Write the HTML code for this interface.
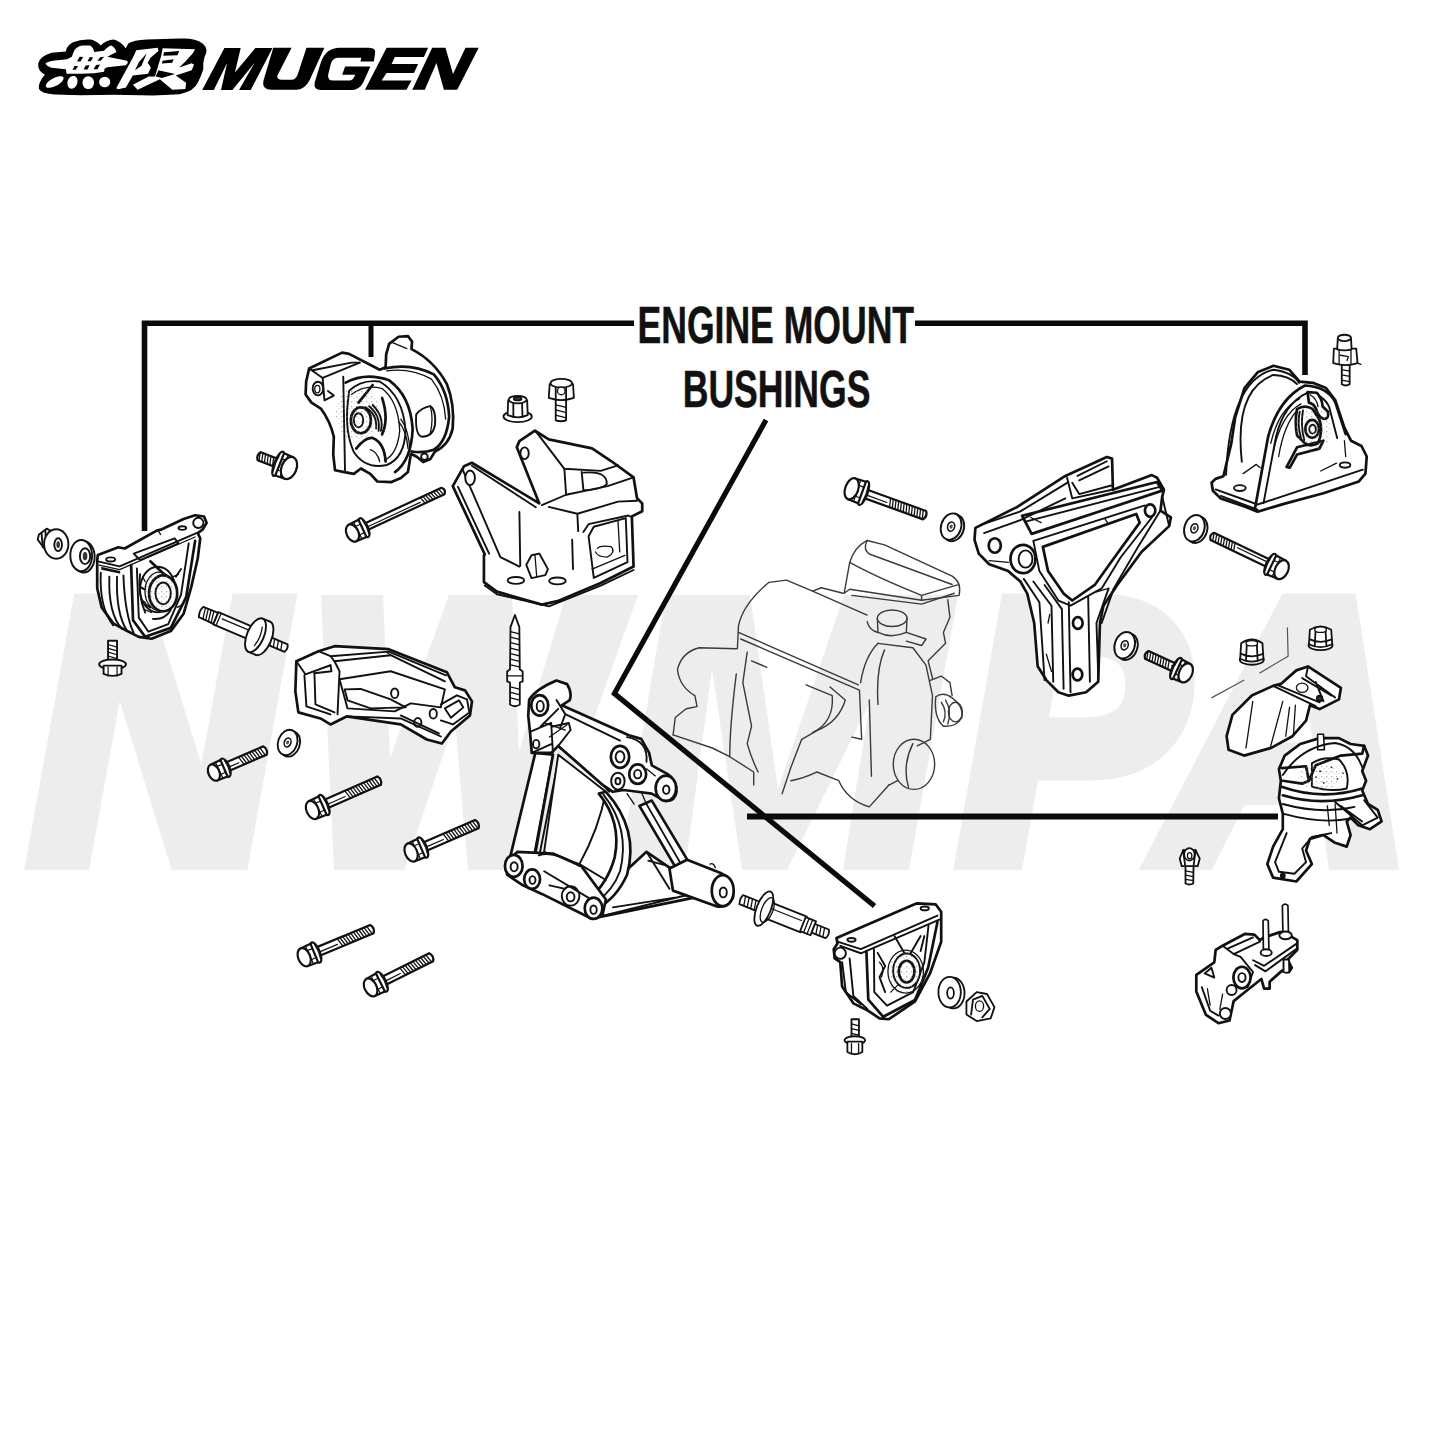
<!DOCTYPE html>
<html><head><meta charset="utf-8"><title>Mugen Engine Mount Bushings</title>
<style>
html,body{margin:0;padding:0;background:#fff;width:1445px;height:1445px;overflow:hidden}
svg{position:absolute;left:0;top:0;display:block}
#parts *{vector-effect:non-scaling-stroke}
.t{stroke-width:1.3}.th{stroke-width:2.7}.nf{fill:none}
</style></head><body>
<svg width="1445" height="1445" viewBox="0 0 1445 1445">
<defs><pattern id="stip" width="5" height="5" patternUnits="userSpaceOnUse"><rect x="1" y="1" width="1.3" height="1.3" fill="#777"/><rect x="3.5" y="3" width="1" height="1" fill="#999"/></pattern></defs>
<!-- watermark -->
<g id="wm" fill="#ededed" stroke="#ededed" stroke-width="22" stroke-linejoin="miter" font-family="Liberation Sans" font-weight="bold" font-style="italic" font-size="370">
<text transform="translate(-248.4,0) scale(0.93,1)" x="300" y="859">N</text>
<path stroke="none" d="M321,595 L383,595 L390,758 L449,595 L512,595 L519,752 L566,595 L638,595 L540,870 L468,870 L455,720 L404,870 L334,870 Z"/>
<path stroke="none" d="M619,870 L666,595 L750,595 L778,789 L844,595 L958,595 L909,870 L843,870 L870,702 L787,870 L742,870 L712,669 L685,870 Z"/>
<text transform="translate(686.5,0) scale(0.91,1)" x="300" y="859">P</text>
<text transform="translate(884.3,0) scale(0.93,1)" x="300" y="859">A</text>
</g>

<!-- logo -->
<g id="logo">
<path fill="#000" transform="translate(35,35) scale(0.06574)" d="M50,430 Q80,320 250,270 L470,250 Q480,160 580,110 Q700,60 850,70 Q950,100 1000,160 Q1080,80 1200,70 Q1300,100 1380,200 L1420,130 Q1500,80 1700,70 L2200,55 Q2430,40 2550,130 Q2650,220 2580,330 Q2550,420 2560,520 Q2520,640 2480,720 Q2420,860 2200,900 L1800,920 L1200,910 L700,915 L300,905 Q100,890 60,820 Q40,740 150,600 Q60,560 50,480 Z"/>
<g fill="#fff" transform="translate(35,35) scale(0.06574)">
<path d="M590,250 Q620,180 720,160 L840,160 Q890,190 900,260 L1050,240 Q1110,170 1160,160 Q1220,190 1240,260 L1100,330 L1400,390 Q1430,420 1380,460 L1100,490 L1060,510 L1050,560 L900,580 L700,590 L480,590 L470,520 L250,500 Q170,470 160,430 Q200,395 380,380 L490,370 L560,330 Z"/>
<ellipse cx="300" cy="715" rx="150" ry="62" transform="rotate(-28 300 715)"/>
<ellipse cx="570" cy="720" rx="75" ry="100" transform="rotate(18 570 720)"/>
<ellipse cx="810" cy="725" rx="88" ry="98"/>
<ellipse cx="1060" cy="715" rx="85" ry="80"/>
</g>
<g fill="#000" transform="translate(35,35) scale(0.06574)">
<path d="M640,405 L680,330 L735,335 L690,405 Z M800,400 L830,340 L885,340 L850,400 Z M950,390 L990,340 L1050,330 L1000,390 Z M570,530 L600,470 L655,470 L620,530 Z M740,525 L770,465 L830,460 L800,525 Z M890,520 L930,455 L990,450 L950,520 Z"/>
</g>
<g fill="#fff" transform="translate(110,35) scale(0.0692)">
<path d="M90,770 L330,330 L380,220 L690,185 L700,230 L585,330 L545,400 L590,470 L550,560 L330,585 L230,760 L120,785 Z"/>
<path d="M650,600 L740,300 L760,190 L1230,205 L1200,260 Q1100,380 1000,470 L1180,410 L1215,430 L1180,510 L950,585 L1100,690 L1090,780 L900,790 L720,640 L400,790 L330,720 L560,600 Z"/>
</g>
<g fill="#000" transform="translate(110,35) scale(0.0692)">
<path d="M360,510 L420,390 L530,262 L455,445 Z"/>
<path d="M780,250 L1000,232 L975,292 L770,300 Z M760,372 L920,352 L900,402 L750,412 Z M660,600 L700,510 L940,565 L750,620 Z"/>
</g>
<g fill="#000">
<path d="M202.2,90 L224.4,47.9 L240.7,47.9 L234.9,72.5 L255.4,47.9 L272.5,47.9 L250.7,90 L239,90 L254.5,63.1 L232.4,90 L221,90 L227.1,63.1 L213.8,90 Z"/>
<path d="M273.3,47.7 L291.6,47.7 L277.4,75.6 Q276.5,79.7 281,79.7 L291.6,79.7 Q295.5,79.7 297.5,75 L306.5,47.7 L324.4,47.7 L309.8,79.7 Q305,89.7 296,89.7 L272,89.7 Q261,89.7 263.7,79.7 Z"/>
<path d="M339.7,47.7 L369,47.7 Q376.5,47.7 375,54 L373.8,61.4 L360.5,61.4 L361.3,57.7 L338,57.7 Q332,58 330.6,64.8 L328.1,75 Q327.5,80.5 333.1,80.5 L349,80.5 Q353.5,80.5 355.1,74.7 L342.2,74.7 L345.1,66.4 L370.4,66.4 L363,83 Q359,90.1 351,90.1 L321,90.1 Q313,90.1 314.8,82 L321,62 Q326,47.7 339.7,47.7 Z"/>
<path d="M386.6,47.7 L428.1,47.7 L423.9,56.9 L394.9,56.9 L391.6,63.9 L418.1,63.9 L414,73.1 L386.6,73.1 L381.6,80.5 L411.5,80.5 L406.5,89.7 L365,89.7 Z"/>
<path d="M432.2,47.7 L445.5,47.7 L453,73.9 L465.5,47.7 L478.7,47.7 L457.2,89.7 L443.9,89.7 L436.4,63.1 L424.8,89.7 L412.3,89.7 Z"/>
</g>
</g>

<!-- bracket lines -->
<g fill="none" stroke="#0a0a0a" stroke-width="5.6" stroke-linecap="butt" stroke-linejoin="miter">
<path d="M144.5,531 L144.5,323.2 L634,323.2"/>
<path d="M915,323.2 L1305,323.2 L1305,375"/>
<path d="M371,323 L371,357" stroke-width="5"/>
<path d="M766,420 L614.4,693.5 L874.5,906" stroke-width="5.2"/>
<path d="M747,816.4 L1278,816.4" stroke-width="6"/>
</g>
<g font-family="Liberation Sans" font-weight="bold" font-size="52" fill="#111" stroke="#111" stroke-width="0.5">
<text transform="translate(637.5,343.4) scale(0.684,1)">ENGINE MOUNT</text>
<text transform="translate(682.7,406.8) scale(0.684,1)">BUSHINGS</text>
</g>

<!-- PARTS -->
<g id="parts" stroke="#111" stroke-width="1.9" fill="#fff" stroke-linejoin="round" stroke-linecap="round">
<!-- P1 upper-left mount -->
<g transform="translate(295,325) scale(0.11765)">
<path class="th" d="M120,370 L400,235 L460,245 L720,380 L770,360 L775,250 L800,160 L880,100 L960,95 L995,140 L990,205 Q1180,300 1290,500 Q1360,680 1340,880 Q1310,1020 1190,1075 L1150,1140 L1090,1165 L1035,1120 L985,1095 L960,1250 L900,1300 L820,1335 L700,1330 L640,1265 L560,1220 L500,1265 L420,1250 L340,1235 L325,1100 L330,950 Q300,820 220,710 L140,660 L90,590 L95,480 Z"/>
<path class="nf" d="M120,370 L235,450 L550,320"/>
<path class="nf" d="M150,385 L480,320 L550,320"/>
<path class="nf" d="M235,450 L250,640 L330,600 L280,560"/>
<ellipse cx="195" cy="540" rx="45" ry="58" class="nf"/>
<ellipse cx="190" cy="545" rx="22" ry="32" class="nf t"/>
<path class="nf" d="M410,440 L425,1235"/>
<path class="nf th" d="M430,490 Q600,400 800,470 Q980,600 1000,880 Q990,1150 850,1250"/>
<path class="nf" d="M460,560 Q560,460 720,480 Q920,600 940,900 Q930,1130 780,1190 Q600,1230 500,1080 Q420,900 450,650 Z"/>
<path class="nf t" d="M480,590 Q600,500 740,540 Q880,650 890,900 Q870,1100 760,1150"/>
<path class="nf th" d="M540,660 L660,510"/>
<path class="nf th" d="M740,620 Q800,800 740,930"/>
<ellipse cx="560" cy="810" rx="85" ry="110" class="th"/>
<ellipse cx="540" cy="810" rx="40" ry="60"/>
<path class="nf" d="M600,700 Q700,760 690,880 M630,690 Q730,770 710,900 M660,680 Q760,780 730,900"/>
<path class="nf th" d="M520,1050 Q600,950 660,960 Q760,1000 770,1160"/>
<path class="nf t" d="M640,1060 Q700,1080 720,1160"/>
<path class="nf th" d="M760,370 Q990,320 1180,420 Q1300,560 1310,780 Q1290,990 1180,1060 Q1100,1090 990,1075"/>
<path class="nf t" d="M780,390 Q980,360 1160,460 Q1270,600 1280,800"/>
<path class="nf" d="M1030,760 Q1080,700 1150,690 Q1200,720 1190,850 Q1170,950 1080,950 Q1020,940 1030,760 Z"/>
<path class="nf t" d="M1150,690 Q1180,800 1150,920"/>
<circle cx="1100" cy="1120" r="28" class="nf"/>
<path class="nf t" d="M830,150 L950,200"/>
<path class="nf t" d="M880,820 Q950,900 960,1050 M900,800 Q970,900 975,1060"/>
</g>

<g transform="translate(213.9,772.6) rotate(-23.4)" style="stroke-width:2.2">
<path d="M15,-4.5 L55.64390687661619,-4.5 Q59.14390687661619,0 55.64390687661619,4.5 L15,4.5 Z"/>
<path class="nf" style="stroke-width:1.3" d="M28.8,-4.5 L31.0,4.5 M31.7,-4.5 L33.9,4.5 M34.6,-4.5 L36.8,4.5 M37.5,-4.5 L39.7,4.5 M40.4,-4.5 L42.6,4.5 M43.3,-4.5 L45.5,4.5 M46.2,-4.5 L48.4,4.5 M49.1,-4.5 L51.3,4.5 M52.0,-4.5 L54.2,4.5 "/>
<path class="nf" style="stroke-width:1.2" d="M17,0.9 L26.8,0.9"/>
<ellipse cx="12.5" cy="0" rx="4" ry="9.8"/>
<path class="nf" style="stroke-width:1.2" d="M14.5,-6.8 Q16,0 14.5,6.8"/>
<path d="M0,-8.5 L11,-9.0 L11,9.0 L0,8.5 Z"/>
<path class="nf" style="stroke-width:1.2" d="M5.5,-8.8 L6.050000000000001,8.8 M2.2,-4.7 L11,-4.2 M2.2,4.7 L11,4.2"/>
<ellipse cx="0" cy="0" rx="5.5" ry="8.5"/>
</g>
<g transform="translate(287.6,742.5) rotate(20)" style="stroke-width:1.9"><ellipse cx="3" cy="0.5" rx="9.5" ry="13"/><path class="nf" d="M0,-13 L3,-12.5 M0,13 L3,13.5"/><ellipse cx="0" cy="0" rx="9.5" ry="13"/><ellipse cx="0" cy="0" rx="3.3" ry="4.5" style="stroke-width:1.5"/><ellipse cx="0" cy="0" rx="1.5" ry="2.0" style="fill:#555;stroke:none"/></g>
<g transform="translate(312.5,810.0) rotate(-23.8)" style="stroke-width:2.2">
<path d="M15,-4.5 L72.8618060161522,-4.5 Q76.3618060161522,0 72.8618060161522,4.5 L15,4.5 Z"/>
<path class="nf" style="stroke-width:1.3" d="M37.4,-4.5 L39.6,4.5 M40.3,-4.5 L42.5,4.5 M43.2,-4.5 L45.4,4.5 M46.1,-4.5 L48.3,4.5 M49.0,-4.5 L51.2,4.5 M51.9,-4.5 L54.1,4.5 M54.8,-4.5 L57.0,4.5 M57.7,-4.5 L59.9,4.5 M60.6,-4.5 L62.8,4.5 M63.5,-4.5 L65.7,4.5 M66.4,-4.5 L68.6,4.5 M69.3,-4.5 L71.5,4.5 "/>
<path class="nf" style="stroke-width:1.2" d="M17,0.9 L35.4,0.9"/>
<ellipse cx="12.5" cy="0" rx="4" ry="10.9"/>
<path class="nf" style="stroke-width:1.2" d="M14.5,-7.6 Q16,0 14.5,7.6"/>
<path d="M0,-9.5 L11,-10.0 L11,10.0 L0,9.5 Z"/>
<path class="nf" style="stroke-width:1.2" d="M5.5,-9.8 L6.050000000000001,9.8 M2.4,-5.2 L11,-4.8 M2.4,5.2 L11,4.8"/>
<ellipse cx="0" cy="0" rx="6" ry="9.5"/>
</g>
<g transform="translate(411.1,852.5) rotate(-23.3)" style="stroke-width:2.2">
<path d="M15,-4.5 L71.50550999755053,-4.5 Q75.00550999755053,0 71.50550999755053,4.5 L15,4.5 Z"/>
<path class="nf" style="stroke-width:1.3" d="M36.8,-4.5 L39.0,4.5 M39.7,-4.5 L41.9,4.5 M42.6,-4.5 L44.8,4.5 M45.5,-4.5 L47.7,4.5 M48.4,-4.5 L50.6,4.5 M51.3,-4.5 L53.5,4.5 M54.2,-4.5 L56.4,4.5 M57.1,-4.5 L59.3,4.5 M60.0,-4.5 L62.2,4.5 M62.9,-4.5 L65.1,4.5 M65.8,-4.5 L68.0,4.5 M68.7,-4.5 L70.9,4.5 "/>
<path class="nf" style="stroke-width:1.2" d="M17,0.9 L34.8,0.9"/>
<ellipse cx="12.5" cy="0" rx="4" ry="10.9"/>
<path class="nf" style="stroke-width:1.2" d="M14.5,-7.6 Q16,0 14.5,7.6"/>
<path d="M0,-9.5 L11,-10.0 L11,10.0 L0,9.5 Z"/>
<path class="nf" style="stroke-width:1.2" d="M5.5,-9.8 L6.050000000000001,9.8 M2.4,-5.2 L11,-4.8 M2.4,5.2 L11,4.8"/>
<ellipse cx="0" cy="0" rx="6" ry="9.5"/>
</g>
<g transform="translate(304.2,957.3) rotate(-22.6)" style="stroke-width:2.2">
<path d="M15,-4.5 L73.3077021293307,-4.5 Q76.8077021293307,0 73.3077021293307,4.5 L15,4.5 Z"/>
<path class="nf" style="stroke-width:1.3" d="M37.7,-4.5 L39.9,4.5 M40.6,-4.5 L42.8,4.5 M43.5,-4.5 L45.7,4.5 M46.4,-4.5 L48.6,4.5 M49.3,-4.5 L51.5,4.5 M52.2,-4.5 L54.4,4.5 M55.1,-4.5 L57.3,4.5 M58.0,-4.5 L60.2,4.5 M60.9,-4.5 L63.1,4.5 M63.8,-4.5 L66.0,4.5 M66.7,-4.5 L68.9,4.5 M69.6,-4.5 L71.8,4.5 "/>
<path class="nf" style="stroke-width:1.2" d="M17,0.9 L35.7,0.9"/>
<ellipse cx="12.5" cy="0" rx="4" ry="10.9"/>
<path class="nf" style="stroke-width:1.2" d="M14.5,-7.6 Q16,0 14.5,7.6"/>
<path d="M0,-9.5 L11,-10.0 L11,10.0 L0,9.5 Z"/>
<path class="nf" style="stroke-width:1.2" d="M5.5,-9.8 L6.050000000000001,9.8 M2.4,-5.2 L11,-4.8 M2.4,5.2 L11,4.8"/>
<ellipse cx="0" cy="0" rx="6" ry="9.5"/>
</g>
<g transform="translate(370.6,987.4) rotate(-26.5)" style="stroke-width:2.2">
<path d="M15,-4.5 L67.63117118072908,-4.5 Q71.13117118072908,0 67.63117118072908,4.5 L15,4.5 Z"/>
<path class="nf" style="stroke-width:1.3" d="M34.8,-4.5 L37.0,4.5 M37.7,-4.5 L39.9,4.5 M40.6,-4.5 L42.8,4.5 M43.5,-4.5 L45.7,4.5 M46.4,-4.5 L48.6,4.5 M49.3,-4.5 L51.5,4.5 M52.2,-4.5 L54.4,4.5 M55.1,-4.5 L57.3,4.5 M58.0,-4.5 L60.2,4.5 M60.9,-4.5 L63.1,4.5 M63.8,-4.5 L66.0,4.5 "/>
<path class="nf" style="stroke-width:1.2" d="M17,0.9 L32.8,0.9"/>
<ellipse cx="12.5" cy="0" rx="4" ry="10.9"/>
<path class="nf" style="stroke-width:1.2" d="M14.5,-7.6 Q16,0 14.5,7.6"/>
<path d="M0,-9.5 L11,-10.0 L11,10.0 L0,9.5 Z"/>
<path class="nf" style="stroke-width:1.2" d="M5.5,-9.8 L6.050000000000001,9.8 M2.4,-5.2 L11,-4.8 M2.4,5.2 L11,4.8"/>
<ellipse cx="0" cy="0" rx="6" ry="9.5"/>
</g>
<g transform="translate(30,505) scale(0.128)">
<path class="th" d="M530,390 L690,330 L740,340 L990,200 L1030,190 L1200,110 L1290,80 L1360,90 L1380,140 L1350,190 L1310,220 L1330,260 L1310,420 L1260,640 L1200,850 L1100,985 L950,1045 L850,1030 L760,985 L650,925 L560,800 L525,650 L525,430 Z"/>
<path class="nf" d="M530,440 L700,480 L1300,220"/>
<path class="nf t" d="M540,470 L700,505 L1290,250"/>
<path class="nf" d="M553,528 Q540,800 650,940 M620,560 Q610,850 720,970 M680,560 Q670,850 760,985 M730,550 Q740,850 810,1000"/>
<path class="nf t" d="M560,490 L700,520 M560,500 L700,530"/>
<path class="nf th" d="M790,470 L805,900 L900,1030 L1100,960 L1220,720 L1290,280"/>
<path class="nf" d="M835,495 L850,880 L925,990 L1080,930 L1180,700 L1240,300"/>
<path class="nf" d="M810,380 L860,430 L1160,300 L1130,260 Z"/>
<path class="nf th" d="M940,440 L1110,600"/>
<ellipse cx="998" cy="660" rx="138" ry="178" class="nf"/>
<ellipse cx="1010" cy="675" rx="112" ry="150" class="nf t"/>
<path class="nf" d="M860,540 Q840,700 900,840 M880,760 L940,800 M860,640 L900,660 M1100,820 Q1050,900 960,890 M1180,500 L1140,560"/>
<ellipse cx="1040" cy="690" rx="110" ry="140" class="th"/>
<ellipse cx="1040" cy="690" rx="60" ry="85"/>
<path class="nf t" d="M880,560 L900,600 M860,640 L890,660 M870,740 L900,760 M900,820 L950,840 M1120,560 L1160,540 M1150,800 L1190,780"/>
<ellipse cx="630" cy="425" rx="35" ry="16" class="nf"/>
<ellipse cx="1190" cy="180" rx="30" ry="14" class="nf"/>
<circle cx="1315" cy="140" r="40" class="nf"/>
<path class="nf t" d="M1000,200 L1020,230"/>
</g>
<g transform="translate(30,505) scale(0.128)" style="stroke-width:1.9">
<path d="M70,230 L130,185 L160,200 L170,380 L120,350 L60,270 Z"/>
<path class="nf" d="M90,220 L100,330 M120,200 L130,350"/>
<ellipse cx="205" cy="305" rx="95" ry="115"/>
<ellipse cx="220" cy="310" rx="30" ry="50"/>
<ellipse cx="220" cy="310" rx="14" ry="26" style="fill:#333;stroke:none"/>
<ellipse cx="420" cy="405" rx="85" ry="122"/>
<ellipse cx="400" cy="395" rx="85" ry="122"/>
<ellipse cx="430" cy="400" rx="40" ry="62"/>
<ellipse cx="430" cy="400" rx="18" ry="32" style="fill:#333;stroke:none"/>
<path d="M610,1060 L680,1060 L680,1230 L610,1230 Z"/>
<path class="nf" style="stroke-width:1.2" d="M610,1090 L680,1110 M610,1120 L680,1140 M610,1150 L680,1170 M610,1180 L680,1200"/>
<ellipse cx="645" cy="1245" rx="105" ry="38"/>
<path d="M575,1255 L575,1320 Q645,1350 715,1320 L715,1255 Z"/>
<path class="nf" style="stroke-width:1.2" d="M610,1265 L610,1335 M680,1265 L680,1335"/>
</g>
<g transform="translate(190,595) scale(0.2007)">
<g transform="translate(55,85) rotate(23)" style="stroke-width:1.9">
<path d="M0,-28 L80,-30 L80,30 L0,28 Q-12,0 0,-28 Z"/>
<path class="nf t" d="M12,-28 L22,28 M27,-29 L37,29 M42,-29 L52,29 M57,-30 L67,30"/>
<path d="M80,-33 L300,-33 L300,33 L80,33 Z"/>
<path class="nf t" d="M95,-33 L95,33 M110,-10 L280,-10"/>
<path d="M330,-20 L460,-20 Q472,0 460,20 L330,20 Z"/>
<path class="nf t" d="M350,-20 L360,20 M370,-20 L380,20 M390,-20 L400,20 M410,-20 L420,20 M430,-20 L440,20"/>
<ellipse cx="335" cy="0" rx="42" ry="90"/>
<path d="M295,-90 L335,-90 L335,90 L295,90 Z" style="stroke:none"/>
<path class="nf" d="M295,-90 L335,-90 M295,90 L335,90"/>
<ellipse cx="295" cy="0" rx="42" ry="90"/>
<path class="nf t" d="M310,-50 Q325,0 310,50"/>
</g>
</g>
<g transform="translate(190,595) scale(0.2007)">
<path class="th" d="M530,330 L640,280 L720,255 L990,270 L1280,385 L1320,460 L1370,475 L1405,530 L1395,600 L1300,680 L1255,740 L1180,720 L1050,645 L780,605 L700,645 L650,615 L540,585 L525,480 Z"/>
<path class="nf" d="M570,400 L580,555 L700,595 M620,390 L625,545 L720,585 M530,330 L575,395 L700,350"/>
<path class="nf" d="M640,280 L700,305 L990,282 L1275,400 M700,305 L720,330 L1000,300 L1270,430"/>
<path class="nf" d="M700,350 L705,380 L620,390 M720,330 L745,380 L735,595"/>
<path class="nf" d="M745,420 L1000,380 L1270,470 L1250,560 L1100,540 L1020,580 L785,565 Z"/>
<path class="nf" d="M770,470 L850,468 L1000,520 L1075,560 L900,565 L785,525 Z"/>
<ellipse cx="1020" cy="490" rx="18" ry="24" class="nf"/>
<ellipse cx="1212" cy="592" rx="18" ry="24" class="nf"/>
<ellipse cx="1135" cy="635" rx="18" ry="22" class="nf"/>
<path class="nf" d="M1250,545 L1330,500 L1380,520 L1392,585 L1310,645 L1250,625 M1270,565 L1340,525 L1362,560 L1300,612 Z"/>
<path class="nf" d="M785,605 L1050,615 L1250,705 M1050,600 L1240,690"/>
<path class="nf t" d="M600,300 L640,280 M980,285 L1000,300"/>
</g>
<g transform="translate(352.5,533.0) rotate(-24.9)" style="stroke-width:2.2">
<path d="M15,-3.6 L99.7826114815296,-3.6 Q103.2826114815296,0 99.7826114815296,3.6 L15,3.6 Z"/>
<path class="nf" style="stroke-width:1.3" d="M76.3,-3.6 L78.5,3.6 M79.2,-3.6 L81.4,3.6 M82.1,-3.6 L84.3,3.6 M85.0,-3.6 L87.2,3.6 M87.9,-3.6 L90.1,3.6 M90.8,-3.6 L93.0,3.6 M93.7,-3.6 L95.9,3.6 M96.6,-3.6 L98.8,3.6 "/>
<path class="nf" style="stroke-width:1.2" d="M17,0.7 L74.3,0.7"/>
<ellipse cx="12.5" cy="0" rx="4" ry="10.3"/>
<path class="nf" style="stroke-width:1.2" d="M14.5,-7.2 Q16,0 14.5,7.2"/>
<path d="M0,-9 L11,-9.5 L11,9.5 L0,9 Z"/>
<path class="nf" style="stroke-width:1.2" d="M5.5,-9.3 L6.050000000000001,9.3 M2.4,-5.0 L11,-4.5 M2.4,5.0 L11,4.5"/>
<ellipse cx="0" cy="0" rx="6" ry="9"/>
</g>
<g transform="translate(289.0,468.0) rotate(-158.4)" style="stroke-width:2.2">
<path d="M14,-4.3 L31.98249549400399,-4.3 Q35.48249549400399,0 31.98249549400399,4.3 L14,4.3 Z"/>
<path class="nf" style="stroke-width:1.3" d="M10.2,-4.3 L12.4,4.3 M13.1,-4.3 L15.3,4.3 M16.0,-4.3 L18.2,4.3 M18.9,-4.3 L21.1,4.3 M21.8,-4.3 L24.0,4.3 M24.7,-4.3 L26.9,4.3 M27.6,-4.3 L29.8,4.3 M30.5,-4.3 L32.7,4.3 "/>
<path class="nf" style="stroke-width:1.2" d="M16,0.9 L8.2,0.9"/>
<ellipse cx="11.5" cy="0" rx="4" ry="13.0"/>
<path class="nf" style="stroke-width:1.2" d="M13.5,-9.1 Q15,0 13.5,9.1"/>
<path d="M0,-11.5 L10,-12.0 L10,12.0 L0,11.5 Z"/>
<path class="nf" style="stroke-width:1.2" d="M5.0,-11.8 L5.5,11.8 M3.0,-6.3 L10,-5.8 M3.0,6.3 L10,5.8"/>
<ellipse cx="0" cy="0" rx="7.5" ry="11.5"/>
</g>
<g transform="translate(445,365) scale(0.173)">
<path class="th" d="M45,700 L110,585 L155,565 L545,800 L415,475 L430,440 L520,380 L600,430 L850,482 L960,555 L1090,650 L1110,770 L1140,800 L1140,845 L1080,875 L1090,1165 L900,1260 L650,1365 L560,1385 L300,1310 L225,1255 L225,1100 L230,1095 Z"/>
<path class="nf" d="M75,705 L255,1090 M100,600 L320,1110 L430,1165"/>
<path class="nf" d="M155,582 L525,822"/>
<ellipse cx="145" cy="652" rx="28" ry="42"/>
<ellipse cx="460" cy="510" rx="24" ry="34"/>
<path class="nf" d="M520,380 L545,410 L690,600 L900,612 L1000,580"/>
<path class="nf" d="M690,600 L700,750 M790,618 L800,722"/>
<path class="nf" d="M800,622 Q940,610 935,690 Q900,720 800,725"/>
<path class="nf" d="M560,810 L700,750 L940,700 L1090,650"/>
<path class="nf" d="M600,820 L765,860 L770,960 M765,860 L1000,790 L1110,785"/>
<path class="nf" d="M800,965 L830,920 L1060,870 L1080,880"/>
<path class="nf" d="M830,990 L860,935 L1045,885 L1055,1140 L860,1230 Z"/>
<path class="nf t" d="M880,1060 Q900,1040 960,1050 Q990,1080 940,1110 Q880,1110 870,1080 M850,1180 L1040,1100 M1000,900 L1010,1080"/>
<path class="nf" d="M430,850 L435,1160 M735,1010 L740,1180"/>
<path d="M470,1155 L500,1100 L545,1090 L595,1180 L580,1215 L500,1232 Z"/>
<path class="nf t" d="M520,1100 L530,1220"/>
<ellipse cx="410" cy="1245" rx="48" ry="20"/>
<ellipse cx="650" cy="1248" rx="48" ry="20"/>
<path class="nf" d="M230,1275 L300,1325 L600,1395 L900,1275 L1090,1185"/>
</g>
<g transform="translate(445,365) scale(0.173)" style="stroke-width:1.8">
<ellipse cx="420" cy="298" rx="82" ry="32"/>
<path d="M365,205 L475,205 L478,290 Q420,315 362,290 Z"/>
<path class="nf" d="M395,210 L395,300 M445,210 L448,300"/>
<ellipse cx="420" cy="200" rx="52" ry="22"/>
<ellipse cx="420" cy="195" rx="22" ry="10" style="fill:#444"/>
<path d="M640,200 L700,200 L700,320 Q670,330 640,320 Z"/>
<path class="nf t" d="M640,230 L700,245 M640,260 L700,275 M640,290 L700,305"/>
<path d="M605,110 L740,110 L745,190 Q672,215 600,190 Z"/>
<path class="nf" d="M640,120 L640,200 M700,120 L700,205"/>
<ellipse cx="672" cy="105" rx="62" ry="25"/>
<ellipse cx="672" cy="150" rx="22" ry="22" class="t"/>
</g>
<g transform="translate(495,605) scale(0.2214)" style="stroke-width:1.8">
<path d="M70,100 L90,45 L110,100 L112,290 L125,300 L125,345 L112,350 L112,450 Q90,465 68,450 L68,350 L55,345 L55,300 L68,290 Z"/>
<path class="nf t" d="M70,120 L110,130 M70,145 L110,155 M70,170 L110,180 M70,195 L110,205 M70,220 L110,230 M70,245 L110,255 M70,270 L110,280 M70,370 L110,380 M70,395 L110,405 M70,420 L110,430"/>
<path class="nf t" d="M55,320 L125,320"/>
</g>
<g transform="translate(500,670) scale(0.1765)">
<path class="th" d="M860,740 L1070,1090 L990,1110 L790,770 Z"/>
<path class="nf" d="M830,760 L1020,1090"/>
<path class="th" d="M560,1400 L1100,1290 L1080,1150 L960,1120 L830,1030 L700,1150 L540,1300 Z"/>
<path class="nf" d="M590,1390 L1060,1275 M640,1345 L990,1290 M830,1030 L960,1240 M840,1080 L950,1110"/>
<path class="th" d="M960,1125 L1060,1075 L1250,1150 Q1330,1190 1320,1290 Q1290,1350 1230,1340 L980,1250 Z"/>
<ellipse cx="1262" cy="1250" rx="62" ry="88" class="th"/>
<ellipse cx="1265" cy="1260" rx="20" ry="28"/>
<path class="nf t" d="M1190,1100 Q1210,1090 1220,1120"/>
<path class="th" d="M200,470 L60,1050 L120,1060 L200,1040 L300,480 Z"/>
<path class="nf" d="M300,480 L195,1035 M335,490 L225,1040"/>
<path d="M330,480 L600,690 Q560,900 450,1100 L250,1030 Z"/>
<path class="th" d="M600,690 Q790,900 720,1160 Q660,1290 560,1345 L500,1300 Q610,1210 650,1060 Q690,860 560,700 Z"/>
<path class="nf" d="M585,705 Q740,900 680,1140 Q640,1250 540,1320"/>
<path class="nf" d="M450,1100 L600,1190"/>
<path class="th" d="M40,1080 L100,1030 L300,1040 L460,1110 L600,1300 L580,1390 L520,1410 L460,1380 L240,1270 L130,1220 L40,1160 Z"/>
<ellipse cx="78" cy="1110" rx="50" ry="62" class="th"/>
<ellipse cx="80" cy="1115" rx="20" ry="26"/>
<ellipse cx="182" cy="1185" rx="45" ry="55" class="th"/>
<ellipse cx="184" cy="1190" rx="17" ry="22"/>
<ellipse cx="400" cy="1280" rx="50" ry="55"/>
<ellipse cx="400" cy="1285" rx="22" ry="26"/>
<ellipse cx="530" cy="1350" rx="50" ry="60" class="th"/>
<ellipse cx="530" cy="1358" rx="18" ry="24"/>
<path class="nf" d="M250,1140 L500,1290 M220,1050 Q300,1020 450,1110 M280,1220 L370,1240"/>
<path class="th" d="M165,170 Q200,110 320,60 L380,80 Q410,130 395,170 L350,200 L730,370 L800,390 L845,470 L860,540 L950,590 Q1000,620 1000,690 Q990,750 930,740 L860,700 L780,690 L700,680 L640,690 L580,650 L330,430 L290,470 L180,470 L170,350 L160,260 Z"/>
<ellipse cx="225" cy="200" rx="48" ry="58" class="th"/>
<ellipse cx="228" cy="205" rx="20" ry="30"/>
<path class="nf" d="M170,350 L290,300 L300,470 M180,470 L290,420 M300,320 L390,300 L400,340 L330,430 M230,320 L330,220"/>
<path class="nf t" d="M250,300 L370,340 M280,380 L380,310"/>
<ellipse cx="205" cy="420" rx="18" ry="24"/>
<path class="nf" d="M320,170 L370,250 L680,400 M370,250 L340,330 M330,430 L570,640 L620,690"/>
<ellipse cx="680" cy="492" rx="52" ry="62" class="th"/>
<ellipse cx="680" cy="492" rx="25" ry="32"/>
<path class="nf" d="M720,380 Q840,400 830,520"/>
<ellipse cx="668" cy="630" rx="38" ry="48"/>
<ellipse cx="668" cy="630" rx="14" ry="18"/>
<ellipse cx="780" cy="590" rx="48" ry="55" class="th"/>
<ellipse cx="780" cy="590" rx="20" ry="24"/>
<ellipse cx="940" cy="670" rx="58" ry="72" class="th"/>
<ellipse cx="942" cy="678" rx="18" ry="24"/>
<path class="nf t" d="M830,560 L880,600 M720,700 L760,760 M800,690 L830,760"/>
</g>
<g transform="translate(730,880) scale(0.1869)" style="stroke-width:1.8">
<g transform="translate(60,105) rotate(21.7)">
<path d="M0,-26 L100,-26 L100,26 L0,26 Q-10,0 0,-26 Z"/>
<path class="nf t" d="M15,-26 L25,26 M35,-26 L45,26 M55,-26 L65,26 M75,-26 L85,26"/>
<path d="M150,-45 L360,-45 L360,45 L150,45 Z"/>
<path d="M355,-40 L415,-40 L415,40 L355,40 Z"/>
<path class="nf t" d="M375,-40 L375,40 M395,-40 L395,40 M170,-15 L340,-15"/>
<path d="M415,-25 L495,-25 Q510,0 495,25 L415,25 Z"/>
<path class="nf t" d="M430,-25 L440,25 M450,-25 L460,25 M470,-25 L480,25"/>
<ellipse cx="130" cy="0" rx="38" ry="98"/>
<ellipse cx="150" cy="0" rx="30" ry="70" class="nf t"/>
</g>
</g>
<g transform="translate(730,880) scale(0.1869)">
<path class="th" d="M570,310 L1000,125 L1100,130 L1130,170 L1130,330 L1070,500 L990,650 L850,745 L800,740 L740,700 L660,660 L600,570 L590,440 L560,420 L555,370 L575,340 Z"/>
<path class="nf" d="M575,330 L700,370 L1110,190 M590,352 L700,392 L1120,212"/>
<path class="nf th" d="M730,385 L740,640 L820,732 L990,642 L1060,470 L1110,225"/>
<path class="nf" d="M770,370 L772,600 L840,672 L980,600 L1040,440 L1062,245"/>
<path class="nf" d="M600,440 L620,600 L700,665 M640,420 L660,620 L735,690"/>
<path class="nf" d="M790,390 L830,460 L800,520 L830,600 M880,300 L950,420 L1020,300 M1020,380 L1040,300"/>
<path class="nf t" d="M860,600 L900,560 L960,580 M800,440 Q830,470 810,520"/>
<ellipse cx="940" cy="490" rx="95" ry="115" class="nf t"/>
<ellipse cx="945" cy="485" rx="72" ry="92"/>
<ellipse cx="945" cy="490" rx="42" ry="58" class="th"/>
<ellipse cx="650" cy="320" rx="22" ry="10"/>
<ellipse cx="1042" cy="152" rx="22" ry="10"/>
<circle cx="590" cy="392" r="30"/>
</g>
<g transform="translate(730,880) scale(0.1869)" style="stroke-width:1.8">
<ellipse cx="1195" cy="605" rx="60" ry="82"/>
<ellipse cx="1175" cy="600" rx="60" ry="82"/>
<ellipse cx="1180" cy="605" rx="18" ry="30"/>
<path d="M1265,650 L1320,600 L1375,610 L1415,680 L1395,740 L1320,755 L1265,720 Z"/>
<path class="nf" d="M1300,640 L1350,620 L1390,690 L1350,735 M1300,640 L1290,720"/>
<ellipse cx="1335" cy="675" rx="22" ry="28" class="t"/>
<path d="M650,745 L690,745 L690,850 L650,850 Z"/>
<path class="nf t" d="M650,770 L690,780 M650,795 L690,805 M650,820 L690,830"/>
<ellipse cx="668" cy="858" rx="55" ry="22"/>
<path d="M628,865 L628,920 Q668,945 708,920 L708,865 Z"/>
<path class="nf t" d="M650,875 L650,930 M688,875 L688,930"/>
</g>
<g transform="translate(660,530) scale(0.218)" style="fill:none;stroke:#3a3a3a;stroke-width:1.4">
<path d="M60,940 L70,860 L120,820 L170,810 L160,760 Q90,720 80,640 Q100,560 180,540 L350,545"/>
<path d="M60,940 L240,1000 L320,1040 L430,1110 L430,1170"/>
<path d="M355,545 L360,440 Q380,340 500,240 L580,230 L700,280 L740,265 L840,290"/>
<path d="M360,470 L910,710 M370,500 L915,735 L925,960 L880,950"/>
<path d="M350,660 Q320,900 320,1040"/>
<path d="M400,560 L380,700 Q400,800 420,900 L400,980 Q420,1050 450,1110"/>
<path d="M420,600 L490,630"/>
<path d="M670,710 L790,760 Q800,880 700,930"/>
<path d="M560,1210 L600,1090 L650,960 L720,920 Q820,880 850,780 L780,720"/>
<path d="M600,1150 Q660,1140 720,1110 L820,1150 Q860,1240 960,1270 L1050,1170"/>
<path d="M1000,520 Q940,580 920,700 M960,780 L970,1130 M1030,550 Q990,640 1000,800"/>
<path d="M1000,520 L1160,540 L1220,620 L1250,760 L1240,960 L1180,990"/>
<path d="M1090,1150 L1050,1170"/>
<path d="M1265,765 Q1300,740 1340,770 Q1392,805 1385,860 Q1360,905 1300,900 Q1255,860 1265,765 Z"/>
<ellipse cx="1355" cy="835" rx="32" ry="45"/>
<path d="M1290,790 Q1320,830 1300,880 M1310,780 Q1340,830 1320,890"/>
<path d="M1240,690 L1290,670 L1330,700 L1340,760"/>
<ellipse cx="1165" cy="1075" rx="95" ry="115"/>
<path d="M1160,980 Q1110,1080 1140,1180"/>
<ellipse cx="1065" cy="405" rx="68" ry="38"/>
<path d="M997,405 L1000,470 Q1060,500 1130,470 L1133,405"/>
<path d="M950,420 Q960,460 1000,470 M1130,470 L1220,500 L1200,530 L1130,510"/>
<path d="M845,290 L870,150 Q890,80 950,48 L1030,68 L1340,212 Q1385,240 1372,300 L1200,322 L870,272 Z"/>
<path d="M872,150 Q1000,220 1200,300 L1365,252 M950,48 Q930,90 960,110 L1340,250 M880,300 L1200,340 L1350,290 M1200,300 L1200,322"/>
<path d="M1320,320 L1330,400 L1300,470 L1310,520 L1270,560 L1230,600 L1250,680"/>
<path d="M700,280 L950,390"/>
</g>
<g transform="translate(965,450) scale(0.173)">
<path class="th" d="M60,450 L300,330 L580,150 L820,40 L850,50 L855,230 L1080,145 L1110,160 L1150,230 L1140,270 L1130,350 L1190,390 L1180,440 L1020,590 L880,780 L800,900 L780,1000 L770,1340 L700,1400 L600,1420 L540,1400 L470,1330 L420,1250 L400,1000 L360,830 L320,760 L250,700 L140,660 L80,600 L55,520 Z"/>
<path class="nf" d="M590,160 L620,280 L850,230 M620,190 L660,255 L845,205 M650,150 L820,65 M660,175 L830,95"/>
<path class="nf" d="M100,430 L320,355 L590,190 M110,480 L320,405 L580,280"/>
<path class="nf th" d="M330,380 L1110,185 L1140,235 L385,485 Z"/>
<path class="nf" d="M345,415 L1120,215"/>
<path class="nf t" d="M380,390 L440,420 M810,400 L830,430"/>
<path class="nf th" d="M450,560 L990,370 L1010,420 L850,640 L750,780 L620,870 L570,830 L480,700 Z"/>
<path class="nf" d="M395,525 L1040,320 L1080,390 L900,620 L790,800 L610,900 L540,870 L430,700 Z"/>
<path class="nf" d="M1140,270 L1180,440 M1130,350 L1000,560 L860,800 L790,1000"/>
<ellipse cx="172" cy="552" rx="35" ry="42" class="th"/>
<ellipse cx="1070" cy="350" rx="30" ry="36" class="th"/>
<ellipse cx="652" cy="1000" rx="28" ry="34" class="th"/>
<ellipse cx="650" cy="1298" rx="28" ry="34" class="th"/>
<ellipse cx="335" cy="630" rx="72" ry="82" class="th"/>
<ellipse cx="350" cy="630" rx="40" ry="50"/>
<path class="nf" d="M340,745 L430,880 L460,1330 M395,760 L500,900 L510,1340 M460,780 L560,920 L570,1380 M600,880 L610,1400"/>
<path class="nf" d="M712,850 L722,1340 M830,800 L760,1000 L770,1300"/>
<path class="nf t" d="M140,640 L250,650 M760,820 L830,800 M470,1180 L500,1280 M490,950 L480,1000"/>
</g>
<g transform="translate(851.7,488.8) rotate(19.9)" style="stroke-width:2.2">
<path d="M15,-4.5 L77.42978030940276,-4.5 Q80.92978030940276,0 77.42978030940276,4.5 L15,4.5 Z"/>
<path class="nf" style="stroke-width:1.3" d="M39.7,-4.5 L41.9,4.5 M42.6,-4.5 L44.8,4.5 M45.5,-4.5 L47.7,4.5 M48.4,-4.5 L50.6,4.5 M51.3,-4.5 L53.5,4.5 M54.2,-4.5 L56.4,4.5 M57.1,-4.5 L59.3,4.5 M60.0,-4.5 L62.2,4.5 M62.9,-4.5 L65.1,4.5 M65.8,-4.5 L68.0,4.5 M68.7,-4.5 L70.9,4.5 M71.6,-4.5 L73.8,4.5 M74.5,-4.5 L76.7,4.5 "/>
<path class="nf" style="stroke-width:1.2" d="M17,0.9 L37.7,0.9"/>
<ellipse cx="12.5" cy="0" rx="4" ry="12.6"/>
<path class="nf" style="stroke-width:1.2" d="M14.5,-8.9 Q16,0 14.5,8.9"/>
<path d="M0,-11 L11,-11.5 L11,11.5 L0,11 Z"/>
<path class="nf" style="stroke-width:1.2" d="M5.5,-11.3 L6.050000000000001,11.3 M2.6,-6.1 L11,-5.5 M2.6,6.1 L11,5.5"/>
<ellipse cx="0" cy="0" rx="6.5" ry="11"/>
</g>
<g transform="translate(951.1,526.6) rotate(18)" style="stroke-width:1.9"><ellipse cx="3" cy="0.5" rx="10" ry="13.5"/><path class="nf" d="M0,-13.5 L3,-13.0 M0,13.5 L3,14.0"/><ellipse cx="0" cy="0" rx="10" ry="13.5"/><ellipse cx="0" cy="0" rx="3.5" ry="4.7" style="stroke-width:1.5"/><ellipse cx="0" cy="0" rx="1.6" ry="2.1" style="fill:#555;stroke:none"/></g>
<g transform="translate(1194.4,528.3) rotate(18)" style="stroke-width:1.9"><ellipse cx="3" cy="0.5" rx="10" ry="13.5"/><path class="nf" d="M0,-13.5 L3,-13.0 M0,13.5 L3,14.0"/><ellipse cx="0" cy="0" rx="10" ry="13.5"/><ellipse cx="0" cy="0" rx="3.5" ry="4.7" style="stroke-width:1.5"/><ellipse cx="0" cy="0" rx="1.6" ry="2.1" style="fill:#555;stroke:none"/></g>
<g transform="translate(1281.6,569.7) rotate(-154.4)" style="stroke-width:2.2">
<path d="M15,-4 L76.94460082868224,-4 Q80.44460082868224,0 76.94460082868224,4 L15,4 Z"/>
<path class="nf" style="stroke-width:1.3" d="M51.3,-4 L53.5,4 M54.2,-4 L56.4,4 M57.1,-4 L59.3,4 M60.0,-4 L62.2,4 M62.9,-4 L65.1,4 M65.8,-4 L68.0,4 M68.7,-4 L70.9,4 M71.6,-4 L73.8,4 M74.5,-4 L76.7,4 "/>
<path class="nf" style="stroke-width:1.2" d="M17,0.8 L49.3,0.8"/>
<ellipse cx="12.5" cy="0" rx="4" ry="11.5"/>
<path class="nf" style="stroke-width:1.2" d="M14.5,-8.0 Q16,0 14.5,8.0"/>
<path d="M0,-10 L11,-10.5 L11,10.5 L0,10 Z"/>
<path class="nf" style="stroke-width:1.2" d="M5.5,-10.3 L6.050000000000001,10.3 M2.6,-5.5 L11,-5.0 M2.6,5.5 L11,5.0"/>
<ellipse cx="0" cy="0" rx="6.5" ry="10"/>
</g>
<g transform="translate(1124.7,645.3) rotate(18)" style="stroke-width:1.9"><ellipse cx="3" cy="0.5" rx="10" ry="13.5"/><path class="nf" d="M0,-13.5 L3,-13.0 M0,13.5 L3,14.0"/><ellipse cx="0" cy="0" rx="10" ry="13.5"/><ellipse cx="0" cy="0" rx="3.5" ry="4.7" style="stroke-width:1.5"/><ellipse cx="0" cy="0" rx="1.6" ry="2.1" style="fill:#555;stroke:none"/></g>
<g transform="translate(1185.7,672.9) rotate(-155.1)" style="stroke-width:2.2">
<path d="M13,-4.2 L42.874268796271245,-4.2 Q46.374268796271245,0 42.874268796271245,4.2 L13,4.2 Z"/>
<path class="nf" style="stroke-width:1.3" d="M17.9,-4.2 L20.1,4.2 M20.8,-4.2 L23.0,4.2 M23.7,-4.2 L25.9,4.2 M26.6,-4.2 L28.8,4.2 M29.5,-4.2 L31.7,4.2 M32.4,-4.2 L34.6,4.2 M35.3,-4.2 L37.5,4.2 M38.2,-4.2 L40.4,4.2 M41.1,-4.2 L43.3,4.2 "/>
<path class="nf" style="stroke-width:1.2" d="M15,0.8 L15.9,0.8"/>
<ellipse cx="10.5" cy="0" rx="4" ry="11.5"/>
<path class="nf" style="stroke-width:1.2" d="M12.5,-8.0 Q14,0 12.5,8.0"/>
<path d="M0,-10 L9,-10.5 L9,10.5 L0,10 Z"/>
<path class="nf" style="stroke-width:1.2" d="M4.5,-10.3 L4.95,10.3 M2.6,-5.5 L9,-5.0 M2.6,5.5 L9,5.0"/>
<ellipse cx="0" cy="0" rx="6.5" ry="10"/>
</g>
<path class="nf" style="stroke:#555;stroke-width:1.2" d="M1287.4,627.9 L1288.1,656.2 L1259.8,672.9 M1243.8,680.2 L1211.9,697.6"/>
<g transform="translate(1205,325) scale(0.1315)">
<path class="th" d="M50,1200 L80,1170 L140,1150 L200,900 L230,700 L300,480 L400,360 L520,310 L640,340 L720,430 L820,440 L920,480 L990,570 L1060,780 L1110,880 L1190,920 L1230,1000 L1220,1130 L1170,1190 L900,1280 L600,1360 L400,1420 L300,1380 L120,1320 L60,1260 Z"/>
<path class="nf" d="M160,1140 Q190,420 520,340 Q670,360 715,440"/>
<path class="nf" d="M280,1040 Q220,490 520,380 Q640,385 700,450"/>
<path class="nf th" d="M380,1395 L480,850 Q560,560 760,460 Q930,470 990,585 L1070,830"/>
<path class="nf" d="M445,1355 L540,850 Q600,600 780,515 Q900,525 945,625 L1005,860"/>
<path class="nf t" d="M500,900 Q560,640 720,560 M520,960 Q580,680 730,600 M560,1000 Q600,760 700,650"/>
<path class="th" d="M700,640 Q760,600 820,640 L870,720 Q900,800 860,900 Q800,930 760,900 L700,840 Q680,740 700,640 Z"/>
<path class="nf" d="M720,660 Q700,760 730,860 M745,650 Q725,760 755,875"/>
<ellipse cx="815" cy="790" rx="52" ry="68" class="th"/>
<ellipse cx="818" cy="792" rx="25" ry="34"/>
<path class="th" d="M780,510 L850,515 Q890,560 895,620 L935,660 Q945,715 905,715 Q860,700 845,640 Q830,600 790,590 Z"/>
<path class="nf t" d="M800,530 Q850,560 860,620"/>
<path class="nf th" d="M620,1080 L700,930 L900,880 L870,940 L700,985 L645,1085 Z"/>
<path class="nf" d="M80,1250 L400,1365 L1200,1100 M120,1300 L400,1405"/>
<ellipse cx="265" cy="1240" rx="45" ry="22"/>
<ellipse cx="1065" cy="1065" rx="40" ry="20"/>
<path class="nf t" d="M290,1130 L390,1060 L420,1085 M880,1110 L1000,1050 M1060,880 L1070,1000"/>
</g>
<g transform="translate(1205,325) scale(0.1315)" style="stroke-width:1.8">
<path d="M1040,300 L1100,300 L1100,450 Q1070,470 1040,450 Z"/>
<path class="nf t" d="M1040,340 L1100,350 M1040,380 L1100,390 M1040,420 L1100,430"/>
<path d="M980,180 L1150,180 L1160,290 Q1070,320 975,290 Z"/>
<path class="nf t" d="M1020,190 L1020,300 M1110,190 L1110,300 M1160,290 L1185,300"/>
<path d="M1010,100 L1110,100 L1115,185 Q1060,200 1005,185 Z"/>
<ellipse cx="1060" cy="98" rx="50" ry="24"/>
<path class="nf t" d="M1030,230 L1090,240 L1080,270"/>
</g>
<g transform="translate(1215,620) scale(0.1937)" style="stroke-width:1.8">
<ellipse cx="190" cy="205" rx="62" ry="26"/>
<path d="M135,120 Q190,80 245,120 L250,200 Q190,230 130,200 Z"/>
<path class="nf" d="M165,110 L160,205 M215,110 L220,205 M135,175 Q190,200 248,175"/>
<ellipse cx="190" cy="120" rx="30" ry="14" class="t"/>
<ellipse cx="545" cy="130" rx="62" ry="26"/>
<path d="M490,50 Q545,15 600,50 L605,125 Q545,155 485,125 Z"/>
<path class="nf" d="M520,40 L515,130 M570,40 L575,130 M490,100 Q545,125 603,100"/>
<ellipse cx="545" cy="50" rx="30" ry="14" class="t"/>
</g>
<g transform="translate(1215,620) scale(0.1937)">
<path class="th" d="M60,600 L90,490 L190,390 L300,340 L340,330 L420,260 L480,240 L650,350 L640,410 L540,460 L490,440 L470,520 L400,600 L290,660 L150,700 L70,670 Z"/>
<path class="nf" d="M300,340 L520,445 M320,335 L540,425 M480,240 L470,290 L620,400 M450,300 L600,390 M520,320 L560,420"/>
<ellipse cx="450" cy="350" rx="30" ry="24" class="t"/>
<circle cx="540" cy="405" r="14" style="fill:#333"/>
<path class="nf t" d="M195,420 L160,660 M350,420 L285,660 M385,450 L365,600 M415,440 L405,590"/>
</g>
<g transform="translate(1215,620) scale(0.1937)">
<path class="th" d="M330,770 L360,700 L440,640 L540,610 L640,610 L700,640 L770,650 L790,700 L760,780 L780,830 L760,880 L790,950 L840,980 L860,1040 L800,1080 L740,1060 L700,1020 L680,1040 L700,1110 L680,1170 L620,1150 L560,1110 L490,1130 L470,1190 L500,1260 L420,1350 L300,1330 L270,1260 L300,1170 L350,1080 L350,1000 L330,920 L340,830 Z"/>
<path d="M530,590 L560,590 L565,670 L530,670 Z" style="stroke-width:1.6"/>
<path class="nf" d="M350,800 Q450,650 620,635 Q720,650 760,760"/>
<path class="nf th" d="M345,765 L470,755 L485,830 L450,845 L350,830 M485,830 L520,750 L650,700 L760,690 L770,650"/>
<path class="nf" d="M500,740 Q560,700 640,720 Q700,780 680,870 Q600,890 500,860 Z"/>
<path class="nf t" d="M540,780 L545,782 M600,760 L603,762 M630,820 L633,822 M560,840 L563,842 M520,810 L522,812 M660,790 L662,792"/>
<path class="nf th" d="M340,860 Q550,935 760,870 M350,905 Q550,965 760,905"/>
<path class="nf" d="M350,950 Q550,1005 720,965 M350,1000 Q550,1055 700,1025"/>
<path class="nf" d="M620,940 L760,1060 L840,1020 L770,930 M650,960 L760,1040"/>
<path class="nf" d="M370,1100 L310,1250 L330,1300 L410,1310 L470,1250 L450,1180 L500,1120 L600,1100"/>
<circle cx="350" cy="1320" r="10" style="fill:#222"/>
<path class="nf t" d="M580,960 L590,1060 M620,950 L630,1100"/>
</g>
<g transform="translate(1170,835) scale(0.1384)" style="stroke-width:1.8">
<path d="M112,225 L170,225 L168,350 Q140,365 112,350 Z"/>
<path class="nf t" d="M112,260 L170,270 M112,290 L170,300 M112,320 L170,330"/>
<path d="M70,170 L95,110 L185,110 L215,170 L200,225 L85,225 Z"/>
<path class="nf" d="M95,110 L110,225 M185,110 L170,225"/>
<ellipse cx="140" cy="140" rx="38" ry="45"/>
<ellipse cx="142" cy="150" rx="16" ry="22" class="t"/>
</g>
<g transform="translate(1170,835) scale(0.1384)">
<path class="th" d="M190,1010 L320,920 L330,830 L380,800 L540,715 L610,720 L650,760 L680,740 L800,700 L850,720 L920,760 L920,830 L850,900 L880,960 L860,990 L810,980 L720,1060 L720,1110 L680,1110 L660,1040 L560,1120 L460,1200 L430,1340 L350,1360 L260,1300 L190,1130 Z"/>
<path class="nf" d="M380,800 L460,860 L650,770 M460,860 L510,880 L600,990 L560,1100 M420,820 L600,740"/>
<path class="nf" d="M600,905 L680,945 L915,785 M615,940 L690,985 L910,825"/>
<ellipse cx="520" cy="1030" rx="62" ry="78" class="th"/>
<ellipse cx="520" cy="1030" rx="26" ry="32"/>
<path class="nf" d="M230,1100 L290,1270 L350,1305 M250,1000 L300,960 L320,1030 Z"/>
<circle cx="445" cy="1120" r="36"/>
<circle cx="400" cy="1290" r="40"/>
<path class="nf t" d="M270,1110 L290,1230 M380,1150 L360,1260"/>
<path d="M820,900 L860,900 L862,990 Q840,1000 820,990 Z"/>
<path d="M672,620 Q690,600 710,620 L715,840 L675,840 Z" style="stroke-width:1.7"/>
<ellipse cx="695" cy="850" rx="40" ry="24"/>
<path d="M812,510 Q832,490 852,510 L856,720 L816,720 Z" style="stroke-width:1.7"/>
<ellipse cx="835" cy="725" rx="45" ry="28"/>
</g>
<g style="stroke:none;fill:url(#stip);opacity:0.55"><ellipse cx="906" cy="974" rx="18" ry="22"/><ellipse cx="358" cy="414" rx="22" ry="28"/><ellipse cx="1313" cy="430" rx="18" ry="22"/><ellipse cx="160" cy="592" rx="16" ry="20"/><ellipse cx="1320" cy="776" rx="22" ry="14"/></g>
</g>
</svg>
</body></html>
